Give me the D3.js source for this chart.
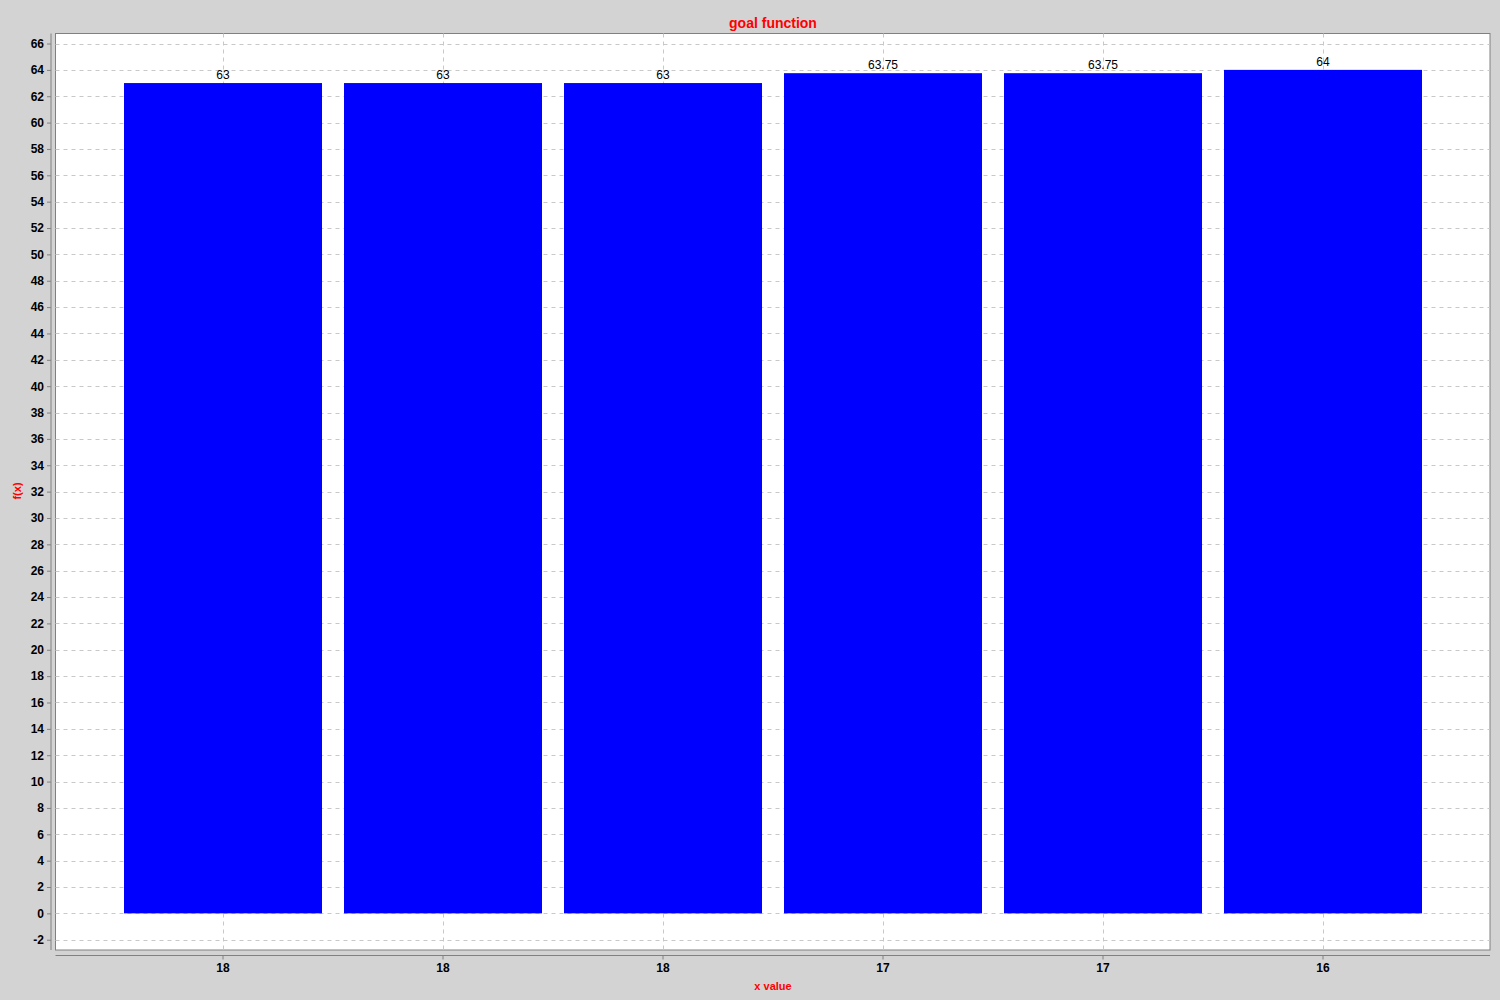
<!DOCTYPE html>
<html><head><meta charset="utf-8">
<script src="https://cdn.jsdelivr.net/npm/d3@7"></script>
<style>body{margin:0;background:#d3d3d3;}svg{display:block;font-family:"Liberation Sans",Arial,sans-serif;}</style>
</head><body>
<svg id="c" width="1500" height="1000"></svg>
<script>
const categories = ["18","18","18","17","17","16"];
const values = [63, 63, 63, 63.75, 63.75, 64];
const valueLabels = ["63","63","63","63.75","63.75","64"];
const yTicks = d3.range(-2, 67, 2);

const svg = d3.select("#c");
const L = 55.5, R = 1490, T = 33.5, B = 950;
svg.append("rect").attr("x", 0).attr("y", 0).attr("width", 1500).attr("height", 1000).attr("fill", "#d3d3d3");
svg.append("rect").attr("x", L).attr("y", T).attr("width", R - L).attr("height", B - T)
  .attr("fill", "#fff").attr("stroke", "#808080").attr("stroke-width", 1);

const y = d3.scaleLinear().domain([-2.78, 66.76]).range([B, T]);
const x = d3.scaleBand().domain(d3.range(categories.length)).range([113, 1433]).paddingInner(0.1).paddingOuter(0.05);

// gridlines
svg.append("g").selectAll("line").data(yTicks).join("line")
  .attr("x1", L).attr("x2", R).attr("y1", d => Math.round(y(d)) + 0.5).attr("y2", d => Math.round(y(d)) + 0.5)
  .attr("stroke", "#c8c8c8").attr("stroke-dasharray", "4,4");
svg.append("g").selectAll("line").data(d3.range(categories.length)).join("line")
  .attr("x1", d => Math.round(x(d) + x.bandwidth() / 2) + 0.5).attr("x2", d => Math.round(x(d) + x.bandwidth() / 2) + 0.5)
  .attr("y1", T).attr("y2", B)
  .attr("stroke", "#c8c8c8").attr("stroke-dasharray", "4,4");

// bars
svg.append("g").selectAll("rect").data(values).join("rect")
  .attr("x", (d, i) => x(i)).attr("width", x.bandwidth())
  .attr("y", d => y(d)).attr("height", d => y(0) - y(d))
  .attr("fill", "#0000ff");

// value labels
svg.append("g").selectAll("text").data(values).join("text")
  .attr("x", (d, i) => x(i) + x.bandwidth() / 2).attr("y", d => y(d) - 4)
  .attr("text-anchor", "middle").attr("font-size", 12).attr("fill", "#000")
  .text((d, i) => valueLabels[i]);

// y axis
const yAxis = d3.axisLeft(y).tickValues(yTicks).tickSize(4).tickPadding(3).tickFormat(d => String(d));
const gy = svg.append("g").attr("transform", "translate(51,0)").call(yAxis);
gy.select(".domain").attr("stroke", "#808080").attr("d", `M0,${T}V${B}`);
gy.selectAll(".tick line").attr("stroke", "#808080");
gy.selectAll(".tick text").attr("font-size", 12).attr("font-weight", "bold").attr("fill", "#000")
  .attr("font-family", "'Liberation Sans',Arial,sans-serif");

// x axis
const xAxis = d3.axisBottom(x).tickSize(4).tickPadding(4).tickFormat(i => categories[i]);
const gx = svg.append("g").attr("transform", "translate(0,955.5)").call(xAxis);
gx.select(".domain").attr("stroke", "#808080").attr("d", `M${L},0H${R}`);
gx.selectAll(".tick line").attr("stroke", "#808080");
gx.selectAll(".tick text").attr("font-size", 12).attr("font-weight", "bold").attr("fill", "#000")
  .attr("font-family", "'Liberation Sans',Arial,sans-serif");

// titles
svg.append("text").attr("x", 773).attr("y", 28).attr("text-anchor", "middle")
  .attr("font-size", 14).attr("font-weight", "bold").attr("fill", "#ff0000").text("goal function");
svg.append("text").attr("x", 773).attr("y", 990).attr("text-anchor", "middle")
  .attr("font-size", 11).attr("font-weight", "bold").attr("fill", "#ff0000").text("x value");
svg.append("text").attr("transform", "translate(21,491) rotate(-90)").attr("text-anchor", "middle")
  .attr("font-size", 11).attr("font-weight", "bold").attr("fill", "#ff0000").text("f(x)");
</script>
</body></html>
